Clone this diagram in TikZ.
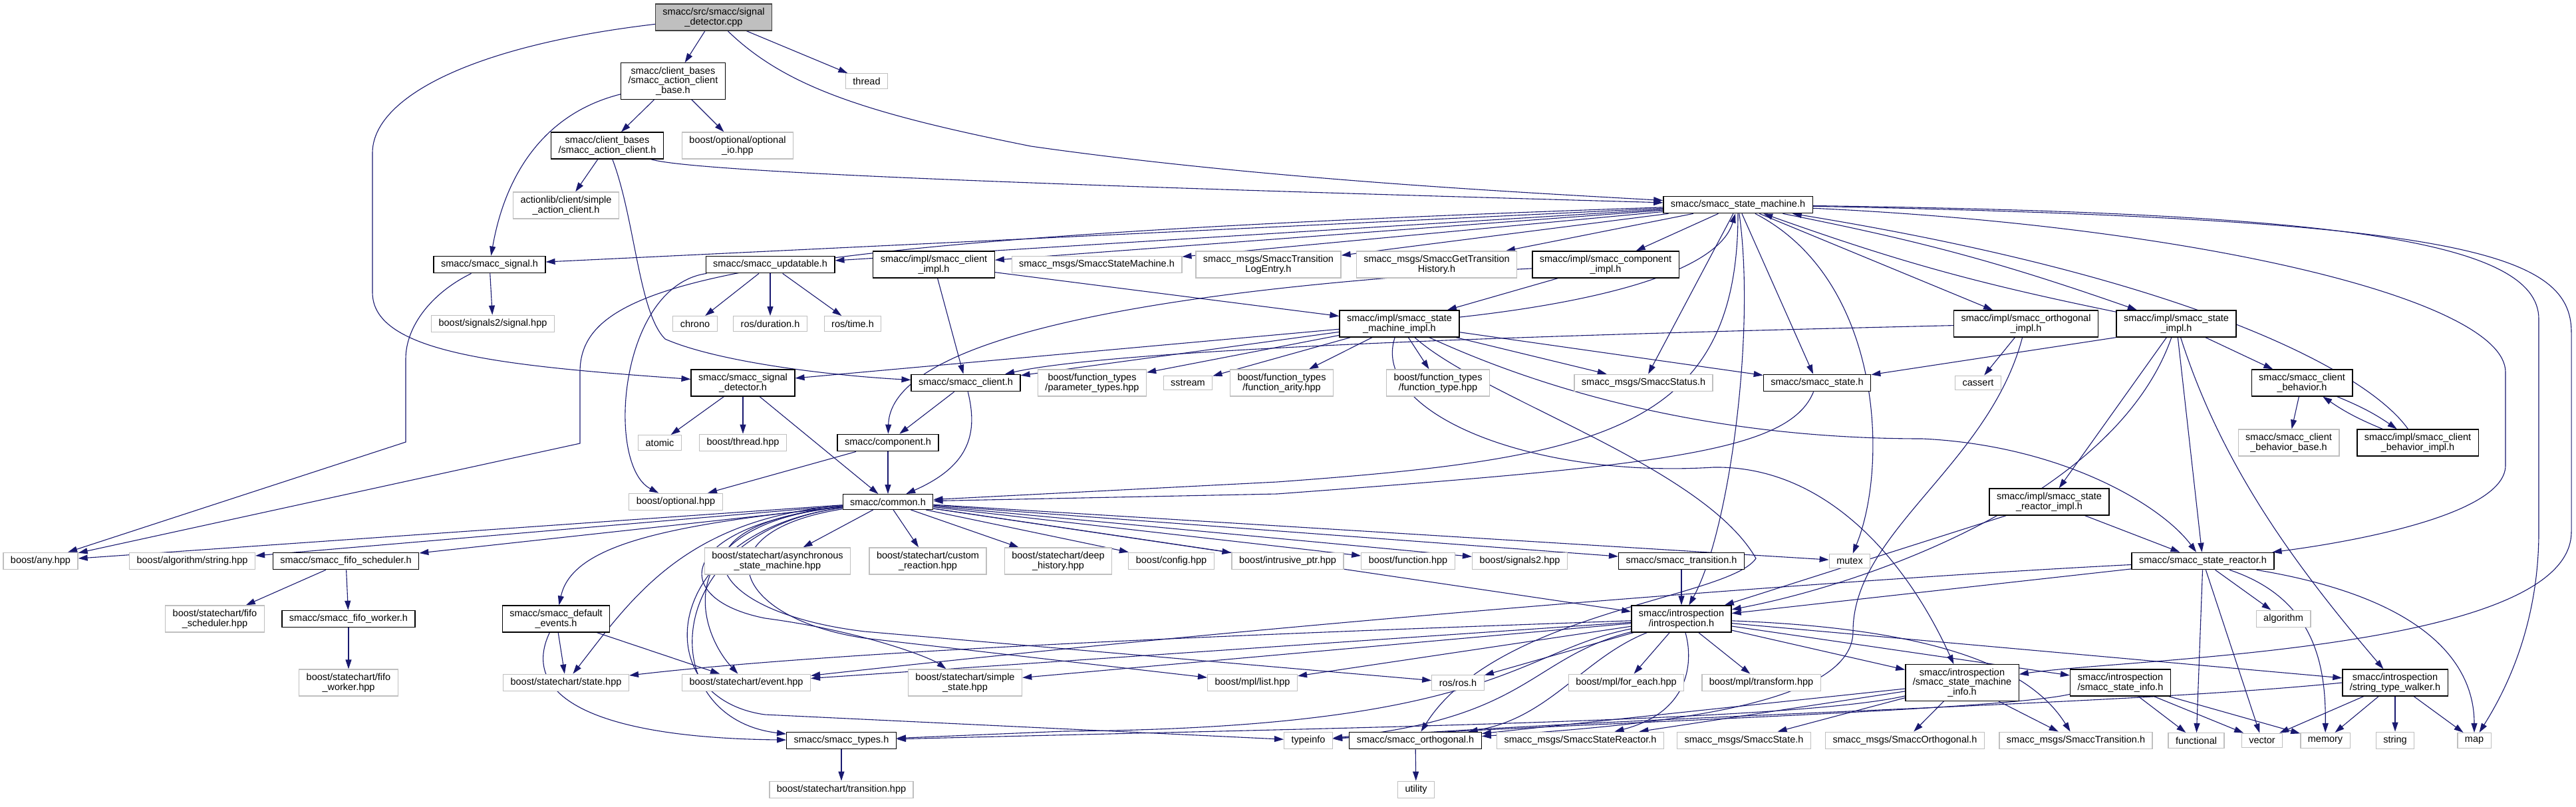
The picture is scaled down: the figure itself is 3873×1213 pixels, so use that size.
\documentclass[tikz,border=0pt]{standalone}
\usepackage{fontspec}
\setmainfont{Liberation Sans}
\usetikzlibrary{arrows.meta}
\definecolor{edgeblue}{RGB}{25,25,112}
\definecolor{extgray}{RGB}{191,191,191}
\pgfdeclarelayer{background}
\pgfsetlayers{background,main}

\begin{document}
\begin{tikzpicture}[x=1pt,y=-1pt,
    hdr/.style={draw=black,line width=1.3pt,fill=white,align=center,
      inner xsep=11pt,inner ysep=6pt,font=\fontsize{14.5}{14.5}\selectfont},
    ext/.style={hdr,draw=extgray},
    src/.style={hdr,draw=black!75,fill=extgray},
    dep/.style={-{Triangle[length=14pt,width=9pt]},draw=edgeblue,line width=1.1pt}
  ]
    \useasboundingbox (0,0) rectangle (3873,1213);
    \node[src] (main) at (1073,26) {smacc/src/smacc/signal\\\_detector.cpp};
    \node[hdr] (acb) at (1012,122) {smacc/client\_bases\\/smacc\_action\_client\\\_base.h};
    \node[ext] (thread) at (1303,122) {thread};
    \node[hdr] (ac) at (913,219) {smacc/client\_bases\\/smacc\_action\_client.h};
    \node[ext] (optio) at (1109,219) {boost/optional/optional\\\_io.hpp};
    \node[ext] (sac) at (851,309) {actionlib/client/simple\\\_action\_client.h};
    \node[hdr] (sm) at (2613,308) {smacc/smacc\_state\_machine.h};
    \node[hdr] (sig) at (736,398) {smacc/smacc\_signal.h};
    \node[hdr] (upd) at (1158,398) {smacc/smacc\_updatable.h};
    \node[hdr] (climpl) at (1404,398) {smacc/impl/smacc\_client\\\_impl.h};
    \node[ext] (smmsg) at (1649,398) {smacc\_msgs/SmaccStateMachine.h};
    \node[ext] (logentry) at (1907,398) {smacc\_msgs/SmaccTransition\\LogEntry.h};
    \node[ext] (gth) at (2160,398) {smacc\_msgs/SmaccGetTransition\\History.h};
    \node[hdr] (compimpl) at (2414,398) {smacc/impl/smacc\_component\\\_impl.h};
    \node[ext] (sig2) at (741,487) {boost/signals2/signal.hpp};
    \node[ext] (chrono) at (1045,487) {chrono};
    \node[ext] (dur) at (1158,487) {ros/duration.h};
    \node[ext] (rtime) at (1282,487) {ros/time.h};
    \node[hdr] (smimpl) at (2104,487) {smacc/impl/smacc\_state\\\_machine\_impl.h};
    \node[hdr] (orthimpl) at (3046,487) {smacc/impl/smacc\_orthogonal\\\_impl.h};
    \node[hdr] (stimpl) at (3272,487) {smacc/impl/smacc\_state\\\_impl.h};
    \node[hdr] (sigdet) at (1117,576) {smacc/smacc\_signal\\\_detector.h};
    \node[hdr] (client) at (1452,576) {smacc/smacc\_client.h};
    \node[ext] (ptypes) at (1642,576) {boost/function\_types\\/parameter\_types.hpp};
    \node[ext] (sstream) at (1786,576) {sstream};
    \node[ext] (farity) at (1927,576) {boost/function\_types\\/function\_arity.hpp};
    \node[ext] (ftype) at (2162,576) {boost/function\_types\\/function\_type.hpp};
    \node[ext] (status) at (2471,576) {smacc\_msgs/SmaccStatus.h};
    \node[hdr] (state) at (2732,576) {smacc/smacc\_state.h};
    \node[ext] (cassert) at (2974,576) {cassert};
    \node[hdr] (cbeh) at (3461,576) {smacc/smacc\_client\\\_behavior.h};
    \node[ext] (atomic) at (992,666) {atomic};
    \node[ext] (thrhpp) at (1117,666) {boost/thread.hpp};
    \node[hdr] (comp) at (1335,666) {smacc/component.h};
    \node[ext] (cbbase) at (3441,666) {smacc/smacc\_client\\\_behavior\_base.h};
    \node[hdr] (cbimpl) at (3635,666) {smacc/impl/smacc\_client\\\_behavior\_impl.h};
    \node[ext] (optional) at (1016,755) {boost/optional.hpp};
    \node[hdr] (common) at (1335,755) {smacc/common.h};
    \node[hdr] (srimpl) at (3081,755) {smacc/impl/smacc\_state\\\_reactor\_impl.h};
    \node[ext] (any) at (61,844) {boost/any.hpp};
    \node[ext] (algstr) at (289,844) {boost/algorithm/string.hpp};
    \node[hdr] (fifosch) at (520,844) {smacc/smacc\_fifo\_scheduler.h};
    \node[ext] (async) at (1169,844) {boost/statechart/asynchronous\\\_state\_machine.hpp};
    \node[ext] (custom) at (1395,844) {boost/statechart/custom\\\_reaction.hpp};
    \node[ext] (deep) at (1591,844) {boost/statechart/deep\\\_history.hpp};
    \node[ext] (config) at (1761,844) {boost/config.hpp};
    \node[ext] (intru) at (1936,844) {boost/intrusive\_ptr.hpp};
    \node[ext] (func) at (2117,844) {boost/function.hpp};
    \node[ext] (sig2b) at (2285,844) {boost/signals2.hpp};
    \node[hdr] (trans) at (2528,844) {smacc/smacc\_transition.h};
    \node[ext] (mutex) at (2781,844) {mutex};
    \node[hdr] (sreact) at (3312,844) {smacc/smacc\_state\_reactor.h};
    \node[ext] (fifoschhpp) at (323,931) {boost/statechart/fifo\\\_scheduler.hpp};
    \node[hdr] (fifowork) at (524,931) {smacc/smacc\_fifo\_worker.h};
    \node[hdr] (defev) at (836,931) {smacc/smacc\_default\\\_events.h};
    \node[hdr] (intro) at (2528,931) {smacc/introspection\\/introspection.h};
    \node[ext] (algo) at (3433,931) {algorithm};
    \node[ext] (fifoworkhpp) at (524,1027) {boost/statechart/fifo\\\_worker.hpp};
    \node[ext] (scstate) at (851,1027) {boost/statechart/state.hpp};
    \node[ext] (event) at (1122,1027) {boost/statechart/event.hpp};
    \node[ext] (simple) at (1451,1027) {boost/statechart/simple\\\_state.hpp};
    \node[ext] (list) at (1883,1027) {boost/mpl/list.hpp};
    \node[ext] (ros) at (2192,1027) {ros/ros.h};
    \node[ext] (foreach) at (2445,1027) {boost/mpl/for\_each.hpp};
    \node[ext] (transform) at (2648,1027) {boost/mpl/transform.hpp};
    \node[hdr] (sminfo) at (2950,1027) {smacc/introspection\\/smacc\_state\_machine\\\_info.h};
    \node[hdr] (stinfo) at (3188,1027) {smacc/introspection\\/smacc\_state\_info.h};
    \node[hdr] (walker) at (3601,1027) {smacc/introspection\\/string\_type\_walker.h};
    \node[hdr] (types) at (1265,1114) {smacc/smacc\_types.h};
    \node[ext] (typeinfo) at (1967,1114) {typeinfo};
    \node[hdr] (orth) at (2128,1114) {smacc/smacc\_orthogonal.h};
    \node[ext] (msreact) at (2376,1114) {smacc\_msgs/SmaccStateReactor.h};
    \node[ext] (msstate) at (2622,1114) {smacc\_msgs/SmaccState.h};
    \node[ext] (msorth) at (2864,1114) {smacc\_msgs/SmaccOrthogonal.h};
    \node[ext] (mstrans) at (3121,1114) {smacc\_msgs/SmaccTransition.h};
    \node[ext] (functional) at (3302,1114) {functional};
    \node[ext] (vector) at (3401,1114) {vector};
    \node[ext] (memory) at (3496,1114) {memory};
    \node[ext] (string) at (3601,1114) {string};
    \node[ext] (map) at (3720,1114) {map};
    \node[ext] (sctrans) at (1265,1188) {boost/statechart/transition.hpp};
    \node[ext] (utility) at (2129,1188) {utility};
    \begin{pgfonlayer}{background}
    % source file
    \draw[dep] (main) -- (acb);
    \draw[dep] (main) -- (thread);
    \draw[dep] (main) .. controls (1180,130) and (1300,170) .. (1550,220) .. controls (1900,270) and (2300,290) .. (sm);
    \draw[dep] (main) .. controls (700,70) and (560,150) .. (560,230) -- (560,440) .. controls (560,530) and (750,550) .. (sigdet);
    % client bases
    \draw[dep] (acb) -- (ac);
    \draw[dep] (acb) -- (optio);
    \draw[dep] (acb) .. controls (820,170) and (760,260) .. (sig);
    \draw[dep] (ac) -- (sac);
    \draw[dep] (ac) .. controls (1050,262) and (1800,285) .. (sm);
    \draw[dep] (ac) .. controls (955,330) and (960,470) .. (1000,510) .. controls (1080,545) and (1250,565) .. (client);
    \draw[dep] (sig) -- (sig2);
    \draw[dep] (sig) .. controls (650,440) and (610,490) .. (610,540) -- (610,665) -- (any);
    % state machine
    \draw[dep] (sm) -- (sig);
    \draw[dep] (sm) -- (upd);
    \draw[dep] (sm) -- (climpl);
    \draw[dep] (sm) -- (smmsg);
    \draw[dep] (sm) -- (logentry);
    \draw[dep] (sm) -- (gth);
    \draw[dep] (sm) -- (compimpl);
    \draw[dep] (sm) -- (status);
    \draw[dep] (sm) -- (state);
    \draw[dep] (sm) .. controls (2830,420) and (2840,700) .. (mutex);
    \draw[dep] (sm) .. controls (2640,500) and (2600,800) .. (intro);
    \draw[dep] (sm) .. controls (2613,650) and (2400,690) .. (1920,725) -- (common);
    \draw[dep] (sm) -- (orthimpl);
    \draw[dep] (sm) to[bend left=4] (stimpl);
    \draw[dep] (stimpl) to[bend left=4] (sm);
    \draw[dep] (sm) .. controls (1100,360) and (872,420) .. (872,560) -- (872,667) -- (any);
    \draw[dep] (sm) .. controls (3700,330) and (3866,380) .. (3866,500) -- (3866,800) .. controls (3866,980) and (3200,990) .. (sminfo);
    \draw[dep] (sm) .. controls (3500,320) and (3817,360) .. (3817,480) -- (3817,800) .. controls (3817,950) and (3760,1050) .. (map);
    \draw[dep] (sm) .. controls (3300,340) and (3767,450) .. (3767,560) -- (3767,700) .. controls (3767,780) and (3500,820) .. (sreact);
    \draw[dep] (upd) -- (chrono);
    \draw[dep] (upd) -- (dur);
    \draw[dep] (upd) -- (rtime);
    \draw[dep] (upd) .. controls (930,430) and (910,700) .. (optional);
    \draw[dep] (climpl) -- (client);
    \draw[dep] (climpl) -- (smimpl);
    \draw[dep] (compimpl) -- (smimpl);
    \draw[dep] (compimpl) .. controls (2000,420) and (1340,470) .. (comp);
    % state machine impl
    \draw[dep] (smimpl) .. controls (2350,460) and (2580,420) .. (sm);
    \draw[dep] (smimpl) -- (sigdet);
    \draw[dep] (smimpl) -- (client);
    \draw[dep] (smimpl) -- (ptypes);
    \draw[dep] (smimpl) -- (sstream);
    \draw[dep] (smimpl) -- (farity);
    \draw[dep] (smimpl) -- (ftype);
    \draw[dep] (smimpl) -- (status);
    \draw[dep] (smimpl) -- (state);
    \draw[dep] (smimpl) .. controls (2350,600) and (2600,660) .. (2890,660) .. controls (3100,670) and (3250,760) .. (sreact);
    \draw[dep] (smimpl) .. controls (2060,620) and (2300,720) .. (2576,703) .. controls (2750,700) and (2870,850) .. (sminfo);
    \draw[dep] (smimpl) .. controls (2230,600) and (2560,700) .. (2640,840) .. controls (2600,900) and (2250,920) .. (orth);
    \draw[dep] (orthimpl) -- (cassert);
    \draw[dep] (orthimpl) .. controls (2500,500) and (1700,520) .. (client);
    \draw[dep] (orthimpl) .. controls (2990,700) and (2786,800) .. (2786,950) .. controls (2786,1060) and (2500,1090) .. (orth);
    \draw[dep] (stimpl.south west) -- (state);
    \draw[dep] (stimpl) -- (cbeh);
    \draw[dep] (stimpl) -- (srimpl);
    \draw[dep] (stimpl) -- (sreact);
    \draw[dep] (stimpl) .. controls (3340,700) and (3450,850) .. (walker);
    \draw[dep] (stimpl) .. controls (3180,750) and (2800,880) .. (intro);
    \draw[dep] (cbeh) -- (cbbase);
    \draw[dep] (cbeh) to[bend left=6] (cbimpl);
    \draw[dep] (cbimpl) to[bend left=6] (cbeh);
    \draw[dep] (cbimpl) .. controls (3560,560) and (3300,420) .. (sm);
    % signal detector, client, component
    \draw[dep] (sigdet) -- (atomic);
    \draw[dep] (sigdet) -- (thrhpp);
    \draw[dep] (sigdet) -- (common);
    \draw[dep] (client) -- (comp);
    \draw[dep] (client) .. controls (1470,650) and (1460,700) .. (common);
    \draw[dep] (comp) -- (common);
    \draw[dep] (comp) -- (optional);
    \draw[dep] (state) .. controls (2690,680) and (2500,700) .. (1920,743) -- (common);
    % common
    \draw[dep] (common) -- (any);
    \draw[dep] (common) -- (algstr);
    \draw[dep] (common) -- (fifosch);
    \draw[dep] (common) .. controls (1000,790) and (860,820) .. (defev);
    \draw[dep] (common) .. controls (1030,780) and (950,900) .. (scstate);
    \draw[dep] (common) .. controls (1000,790) and (1050,950) .. (event);
    \draw[dep] (common) -- (async);
    \draw[dep] (common) -- (custom);
    \draw[dep] (common) -- (deep);
    \draw[dep] (common) -- (config);
    \draw[dep] (common) -- (intru);
    \draw[dep] (common) -- (func);
    \draw[dep] (common) -- (sig2b);
    \draw[dep] (common) -- (trans);
    \draw[dep] (common) -- (mutex);
    \draw[dep] (common) .. controls (1020,790) and (1000,900) .. (1150,930) .. controls (1300,950) and (1400,990) .. (simple);
    \draw[dep] (common) .. controls (1050,800) and (1100,930) .. (1300,960) -- (list);
    \draw[dep] (common) .. controls (990,800) and (980,1080) .. (types);
    \draw[dep] (common) -- (intro);
    \draw[dep] (common) .. controls (990,800) and (970,1050) .. (1150,1075) -- (typeinfo);
    \draw[dep] (common) .. controls (1000,790) and (1050,920) .. (1300,950) -- (ros);
    \draw[dep] (fifosch) -- (fifoschhpp);
    \draw[dep] (fifosch) -- (fifowork);
    \draw[dep] (fifowork) -- (fifoworkhpp);
    \draw[dep] (defev) -- (scstate);
    \draw[dep] (defev) -- (event);
    \draw[dep] (defev) .. controls (780,1050) and (900,1110) .. (types);
    \draw[dep] (types) -- (sctrans);
    \draw[dep] (orth) -- (utility);
    \draw[dep] (trans) -- (intro);
    % state reactor
    \draw[dep] (srimpl) -- (sreact);
    \draw[dep] (srimpl) -- (intro);
    \draw[dep] (sreact) -- (intro);
    \draw[dep] (sreact) .. controls (2800,870) and (2000,930) .. (event);
    \draw[dep] (sreact) -- (algo);
    \draw[dep] (sreact) -- (functional);
    \draw[dep] (sreact) -- (vector);
    \draw[dep] (sreact) .. controls (3480,900) and (3497,1000) .. (memory);
    \draw[dep] (sreact) .. controls (3650,900) and (3720,1000) .. (map);
    % introspection
    \draw[dep] (intro) .. controls (2000,950) and (1300,975) .. (scstate);
    \draw[dep] (intro) -- (event);
    \draw[dep] (intro) -- (simple);
    \draw[dep] (intro) -- (list);
    \draw[dep] (intro) -- (ros);
    \draw[dep] (intro) -- (foreach);
    \draw[dep] (intro) -- (transform);
    \draw[dep] (intro) .. controls (2300,990) and (2300,1080) .. (typeinfo);
    \draw[dep] (intro) .. controls (2280,980) and (2250,1095) .. (1600,1100) -- (types);
    \draw[dep] (intro) .. controls (2380,990) and (2330,1080) .. (orth);
    \draw[dep] (intro) .. controls (2545,990) and (2545,1070) .. (msreact);
    \draw[dep] (intro) -- (sminfo);
    \draw[dep] (intro) -- (stinfo);
    \draw[dep] (intro) -- (walker);
    \draw[dep] (intro) .. controls (2900,945) and (3050,1000) .. (mstrans);
    \draw[dep] (sminfo) -- (msorth);
    \draw[dep] (sminfo) -- (mstrans);
    \draw[dep] (sminfo) -- (msstate);
    \draw[dep] (sminfo) -- (msreact);
    \draw[dep] (sminfo) -- (orth);
    \draw[dep] (sminfo) .. controls (2700,1085) and (2000,1095) .. (types);
    \draw[dep] (stinfo) -- (functional);
    \draw[dep] (stinfo) -- (vector);
    \draw[dep] (stinfo) -- (memory);
    \draw[dep] (stinfo) .. controls (3000,1070) and (2300,1090) .. (typeinfo);
    \draw[dep] (walker) -- (vector);
    \draw[dep] (walker) -- (memory);
    \draw[dep] (walker) -- (string);
    \draw[dep] (walker) -- (map);
    \draw[dep] (walker.west) .. controls (3200,1060) and (2500,1075) .. (typeinfo);
    \end{pgfonlayer}
  \end{tikzpicture}
\end{document}
